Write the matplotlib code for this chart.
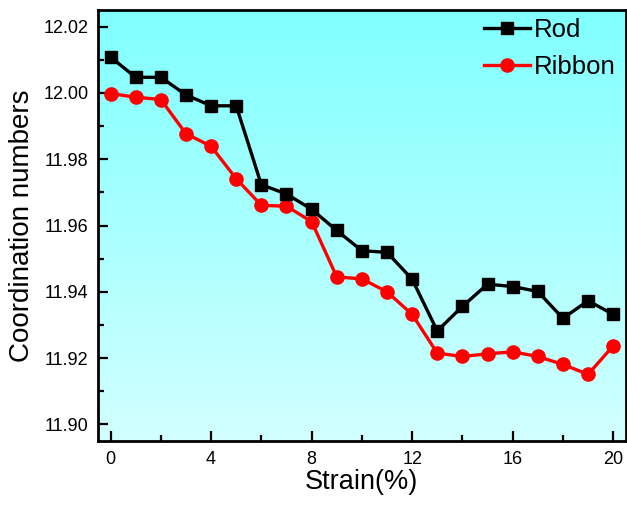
import matplotlib
matplotlib.use('Agg')
import matplotlib.pyplot as plt
import numpy as np
from matplotlib.colors import LinearSegmentedColormap
from matplotlib.ticker import MultipleLocator

plt.rcParams['font.family'] = ['Liberation Sans', 'DejaVu Sans']

strain = list(range(21))
rod = [12.0108, 12.0047, 12.0047, 11.9994, 11.9961, 11.9961, 11.9723, 11.9695,
       11.9649, 11.9585, 11.9524, 11.9519, 11.9438, 11.9282, 11.9356, 11.9423,
       11.9416, 11.9401, 11.9320, 11.9373, 11.9332]
ribbon = [11.9998, 11.9987, 11.9980, 11.9877, 11.9839, 11.9741, 11.9661, 11.9658,
          11.9612, 11.9445, 11.9439, 11.9400, 11.9332, 11.9215, 11.9205, 11.9213,
          11.9219, 11.9205, 11.9181, 11.9151, 11.9237]

fig = plt.figure(figsize=(6.27, 5.05), dpi=100)
ax = fig.add_axes([0.1563, 0.1267, 0.8417, 0.8535])

# background gradient, cyan at top fading lighter toward the bottom
cmap = LinearSegmentedColormap.from_list('bg', ['#d2ffff', '#80ffff'])
grad = np.linspace(0, 1, 256).reshape(-1, 1)
ax.imshow(grad, cmap=cmap, aspect='auto', extent=[0, 1, 0, 1],
          transform=ax.transAxes, origin='lower', zorder=0)

ax.plot(strain, rod, color='black', marker='s', markersize=8.5, linewidth=2.4,
        label='Rod', zorder=3)
ax.plot(strain, ribbon, color='red', marker='o', markersize=9.5, linewidth=2.4,
        label='Ribbon', zorder=2)

ax.set_xlim(-0.5, 20.5)
ax.set_ylim(11.895, 12.025)
ax.xaxis.set_major_locator(MultipleLocator(4))
ax.xaxis.set_minor_locator(MultipleLocator(2))
ax.yaxis.set_major_locator(MultipleLocator(0.02))
ax.yaxis.set_minor_locator(MultipleLocator(0.01))
ax.yaxis.set_major_formatter(matplotlib.ticker.FormatStrFormatter('%.2f'))

ax.tick_params(which='major', direction='in', length=7, width=1.6, labelsize=13, pad=7)
ax.tick_params(which='minor', direction='in', length=4, width=1.6)
ax.tick_params(top=False, right=False, which='both')
for s in ax.spines.values():
    s.set_linewidth(2)

ax.set_xlabel('Strain(%)', fontsize=19.5, labelpad=1)
ax.set_ylabel('Coordination numbers', fontsize=20, labelpad=6)

ax.legend(loc='upper right', frameon=False, fontsize=18.5, handlelength=1.8,
          handletextpad=0.15, borderaxespad=0.0, labelspacing=0.5,
          bbox_to_anchor=(1.0, 1.005))

fig.savefig('out.png', dpi=100)
